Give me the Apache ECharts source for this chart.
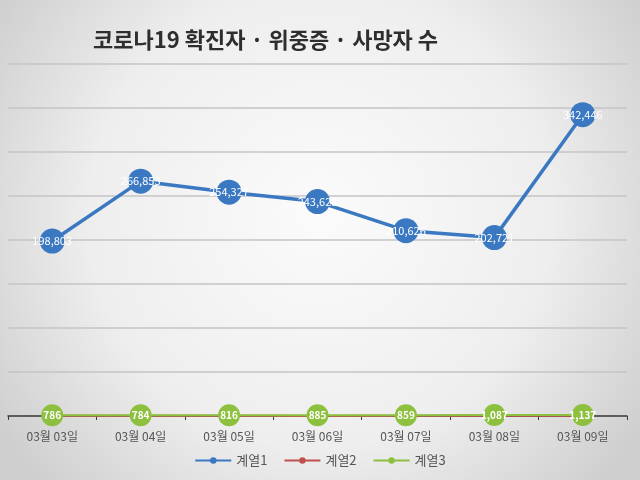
<!DOCTYPE html>
<html><head><meta charset="utf-8">
<script src="https://cdn.jsdelivr.net/npm/echarts@6/dist/echarts.min.js"></script>
<style>html,body{margin:0;padding:0;}#c{width:640px;height:480px;}</style>
</head><body><div id="c"></div>
<script>
const categories = ['03월 03일','03월 04일','03월 05일','03월 06일','03월 07일','03월 08일','03월 09일'];
const series1 = [198803, 266853, 254327, 243628, 210626, 202721, 342446];
const series2 = [186, 216, 216, 112, 161, 186, 158];
const series3 = [786, 784, 816, 885, 859, 1087, 1137];
const seriesNames = ['계열1','계열2','계열3'];
const titleText = '코로나19 확진자 · 위중증 · 사망자 수';
const fmt = v => v.toLocaleString('en-US');

const chart = echarts.init(document.getElementById('c'));
chart.setOption({
  animation: false,
  backgroundColor: {type:'radial', x:0.5, y:0.45, r:0.8,
    colorStops:[{offset:0,color:'#fbfbfb'},{offset:0.6,color:'#eeeeee'},{offset:1,color:'#cfcfcf'}]},
  textStyle: {fontFamily: "'Noto Sans CJK KR', 'Noto Sans', sans-serif"},
  title: {text: titleText, left: 88, top: 24,
    textStyle: {fontSize: 22, fontWeight: 'bold', color: '#2e2e2e', fontFamily: "'Noto Sans CJK KR', sans-serif"}},
  grid: {left: 8, right: 13, top: 64, bottom: 64, containLabel: false},
  legend: {bottom: 8, left: 'center', itemWidth: 36, itemHeight: 8, itemGap: 16,
    textStyle: {color: '#555', fontSize: 13},
    data: seriesNames.map((n,i)=>({name:n}))},
  xAxis: {type: 'category', data: categories, boundaryGap: true,
    axisLine: {lineStyle: {color: '#3a3a3a', width: 1.5}},
    axisTick: {show: true, length: 4, lineStyle: {color: '#3a3a3a'}},
    axisLabel: {color: '#555', fontSize: 12, margin: 14}},
  yAxis: {type: 'value', min: 0, max: 400000, interval: 50000,
    axisLabel: {show: false}, axisLine: {show: false}, axisTick: {show: false},
    splitLine: {lineStyle: {color: '#c4c4c4', width: 1.5}}},
  series: [
    {name: seriesNames[0], type: 'line', data: series1, color: '#3a78c2',
      lineStyle: {width: 3.5}, symbol: 'circle', symbolSize: 25,
      label: {show: true, position: 'inside', color: '#fff', fontSize: 11, formatter: p => fmt(p.value)}},
    {name: seriesNames[1], type: 'line', data: series2, color: '#c0504d',
      lineStyle: {width: 2}, symbol: 'circle', symbolSize: 1},
    {name: seriesNames[2], type: 'line', data: series3, color: '#8dc03f',
      lineStyle: {width: 2}, symbol: 'circle', symbolSize: 22,
      label: {show: true, position: 'inside', color: '#fff', fontSize: 10, fontWeight: 'bold', formatter: p => fmt(p.value)}}
  ]
});
</script></body></html>
